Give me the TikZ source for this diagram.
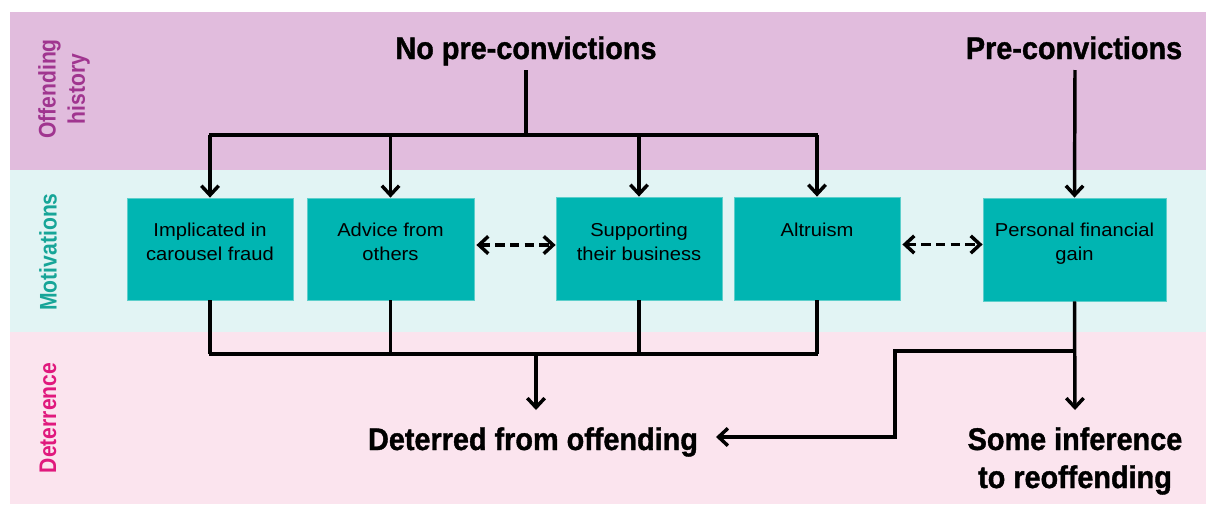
\documentclass[tikz,border=0pt]{standalone}
\usepackage{fontspec}
\setmainfont{Liberation Sans}
\newfontfamily\headfont{Liberation Sans}[FakeStretch=0.92,FakeBold=1.2]
\newfontfamily\labfont{Liberation Sans}[FakeStretch=0.88]
\newfontfamily\boxfont{Liberation Sans}[FakeStretch=1.08]
\usetikzlibrary{arrows.meta,calc}
\definecolor{bandA}{HTML}{E1BCDD}
\definecolor{bandB}{HTML}{E2F4F4}
\definecolor{bandC}{HTML}{FBE4EE}
\definecolor{labA}{HTML}{A0358F}
\definecolor{labB}{HTML}{17A598}
\definecolor{labC}{HTML}{E0197D}
\definecolor{boxfill}{HTML}{00B5B2}
\definecolor{boxline}{HTML}{5CCFCB}
\tikzset{
  bandlabel/.style={rotate=90, font=\labfont\bfseries\fontsize{18}{22}\selectfont, align=center, inner sep=0pt},
  heading/.style={font=\headfont\bfseries\fontsize{23.5}{28.5}\selectfont, align=center, inner sep=0pt},
  mbox/.style={draw=boxline, line width=0.6pt, fill=boxfill, inner sep=0pt},
  mtext/.style={font=\boxfont\fontsize{14}{17.8}\selectfont, align=center, inner sep=0pt, anchor=north},
  conn/.style={line width=2.6pt, line cap=butt},
  tip/.tip={Straight Barb[length=7pt,width=13pt,line width=2.6pt]},
  arr/.style={conn, -tip},
  darr/.style={conn, dash pattern=on 7pt off 4pt, tip-tip},
}
\begin{document}
\begin{tikzpicture}[x=0.75pt,y=-0.75pt]
\useasboundingbox (0,0) rectangle (1206,504);
\fill[white] (0,0) rectangle (1206,504);
% bands
\fill[bandA] (10,12) rectangle (1206,170);
\fill[bandB] (10,170) rectangle (1206,332);
\fill[bandC] (10,332) rectangle (1206,504);
\node[bandlabel, text=labA] (lA) at (64,89) {Offending\\history};
\node[bandlabel, text=labB] (lB) at (48,252) {Motivations};
\node[bandlabel, text=labC] (lC) at (48,418) {Deterrence};
% headings
\node[heading, anchor=base] (np) at (526,59) {No pre-convictions};
\node[heading, anchor=base] (pc) at (1074,59) {Pre-convictions};
% boxes
\node[mbox, minimum width=166*0.75pt, minimum height=102*0.75pt] (b1) at (210,249) {};
\node[mbox, minimum width=167*0.75pt, minimum height=102*0.75pt] (b2) at (390.5,249) {};
\node[mbox, minimum width=166*0.75pt, minimum height=103*0.75pt] (b3) at (639,248.5) {};
\node[mbox, minimum width=166*0.75pt, minimum height=103*0.75pt] (b4) at (817,248.5) {};
\node[mbox, minimum width=183*0.75pt, minimum height=103*0.75pt] (b5) at (1074.5,249.5) {};
\node[mtext] (t1) at ($(b1.north)+(0,25)$) {Implicated in\\carousel fraud};
\node[mtext] (t2) at ($(b2.north)+(0,25)$) {Advice from\\others};
\node[mtext] (t3) at ($(b3.north)+(0,26)$) {Supporting\\their business};
\node[mtext] (t4) at ($(b4.north)+(0,26)$) {Altruism};
\node[mtext] (t5) at ($(b5.north)+(0,25)$) {Personal financial\\gain};
% outcomes
\node[heading, anchor=base] (df) at (533,450) {Deterred from offending};
\node[heading, anchor=base] (si) at (1075,488) {Some inference\\to reoffending};
% top connectors
\coordinate (jt) at (526,135);
\draw[conn] (526,70) -- (jt);
\draw[conn] (209,135) -- (818,135);
\draw[arr] (b1.north |- jt) -- (b1.north);
\draw[arr] (b2.north |- jt) -- (b2.north);
\draw[arr] (b3.north |- jt) -- (b3.north);
\draw[arr] (b4.north |- jt) -- (b4.north);
\draw[arr] (1075,70) -- (b5.north);
% dashed links
\draw[darr] (b2.east) ++(2,-4) coordinate (d1) -- (d1 -| b3.west);
\draw[darr] (b4.east) ++(2,-4) coordinate (d2) -- (d2 -| b5.west);
% bottom connectors
\coordinate (jb) at (536,354);
\draw[conn] (b1.south) -- (b1.south |- jb);
\draw[conn] (b2.south) -- (b2.south |- jb);
\draw[conn] (b3.south) -- (b3.south |- jb);
\draw[conn] (b4.south) -- (b4.south |- jb);
\draw[conn] ([xshift=-1pt]b1.south |- jb) -- ([xshift=1pt]b4.south |- jb);
\draw[arr] (jb) -- (536,410);
\coordinate (jr) at (1075,351);
\draw[arr] (b5.south) -- (1075,410);
\draw[arr] (jr) -- (895,351) -- (895,437) -- (716,437);
\end{tikzpicture}
\end{document}
